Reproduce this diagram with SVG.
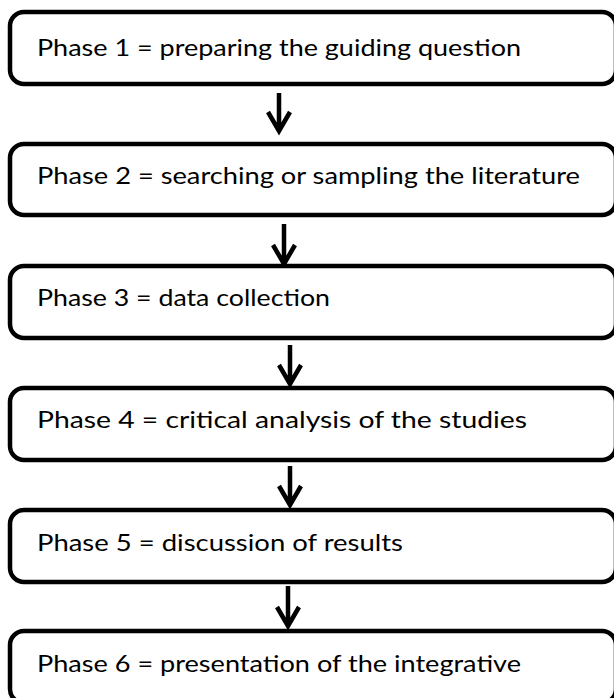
<svg xmlns="http://www.w3.org/2000/svg" width="614" height="698" viewBox="0 0 614 698">
<defs>
<style>
.box{fill:#fff;stroke:#000;stroke-width:4.5}
.lbl{font-family:Lato,"Open Sans","Liberation Sans",sans-serif;font-size:23px;fill:#000}
.arr{fill:none;stroke:#000;stroke-width:4.5;stroke-linejoin:miter;stroke-linecap:butt}
</style>
</defs>
<rect width="614" height="698" fill="#fff"/>
<g id="connectors">
<path class="arr" d="M279,93 V129 M268,112 L279,131 L290,112"/>
<path class="arr" d="M284,224 V262 M273,245 L284,264 L295,245"/>
<path class="arr" d="M290,345 V382 M279,365 L290,384 L301,365"/>
<path class="arr" d="M290,466 V503 M279,486 L290,505 L301,486"/>
<path class="arr" d="M288,586 V624 M277,607 L288,626 L299,607"/>
</g>
<g id="phase1"><rect class="box" x="10" y="12" width="606" height="72" rx="14"/><text class="lbl" x="37" y="56" textLength="484" lengthAdjust="spacingAndGlyphs">Phase 1 = preparing the guiding question</text></g>
<g id="phase2"><rect class="box" x="10" y="144" width="606" height="71" rx="14"/><text class="lbl" x="37" y="184" textLength="543" lengthAdjust="spacingAndGlyphs">Phase 2 = searching or sampling the literature</text></g>
<g id="phase3"><rect class="box" x="10" y="266" width="606" height="72" rx="14"/><text class="lbl" x="37" y="306" textLength="293" lengthAdjust="spacingAndGlyphs">Phase 3 = data collection</text></g>
<g id="phase4"><rect class="box" x="10" y="388" width="606" height="72" rx="14"/><text class="lbl" x="37" y="428" textLength="490" lengthAdjust="spacingAndGlyphs">Phase 4 = critical analysis of the studies</text></g>
<g id="phase5"><rect class="box" x="10" y="510" width="606" height="72" rx="14"/><text class="lbl" x="37" y="551" textLength="366" lengthAdjust="spacingAndGlyphs">Phase 5 = discussion of results</text></g>
<g id="phase6"><rect class="box" x="10" y="631" width="606" height="72" rx="14"/><text class="lbl" x="37" y="672" textLength="484" lengthAdjust="spacingAndGlyphs">Phase 6 = presentation of the integrative</text></g>
</svg>
